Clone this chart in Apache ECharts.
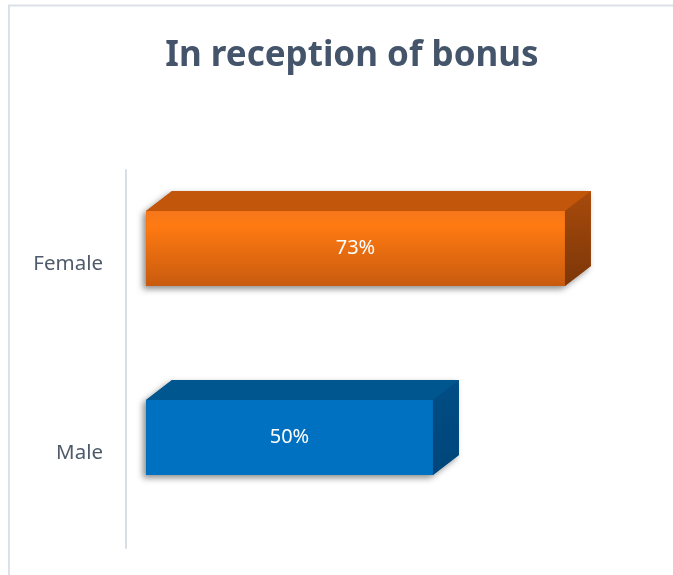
<!DOCTYPE html>
<html>
<head>
<meta charset="utf-8">
<script src="https://cdn.jsdelivr.net/npm/echarts@6/dist/echarts.min.js"></script>
<style>
html,body{margin:0;padding:0;background:#fff;}
#main{width:673px;height:575px;}
</style>
</head>
<body>
<div id="main"></div>
<script>
var categories = ['Male', 'Female'];
var values = [50, 73];
var valueLabels = ['50%', '73%'];

// colours per bar: front gradient, top face, side face
var barColors = [
    { front: ['#0070C0', '#0070C0', '#0070C0'], top: '#00568F', side: ['#004D85', '#00467A'] },
    { front: ['#F5761A', '#FF7A12', '#C85A0E'], top: '#C2570B', side: ['#A84A0C', '#7C3708'] }
];

var seriesData = [];
for (var i = 0; i < values.length; i++) {
    seriesData.push([values[i], i, valueLabels[i]]);
}

function renderBox(params, api) {
    var v = api.value(0);
    var c = api.value(1);
    var p0 = api.coord([0, c]);
    var p1 = api.coord([v, c]);
    var band = api.size([0, 1])[1];
    var h = band * 0.397;
    var cy = p0[1] - band * 0.085;
    var x0 = p0[0], x1 = p1[0];
    var y0 = cy - h / 2, y1 = cy + h / 2;
    var dx = 26, dy = 20;
    var col = barColors[c];
    return {
        type: 'group',
        children: [
            {   // shadow
                type: 'polygon',
                shape: { points: [[x0, y1], [x0, y0], [x0 + dx, y0 - dy], [x1 + dx, y0 - dy], [x1 + dx, y1 - dy], [x1, y1]] },
                style: { fill: col.top, shadowBlur: 6, shadowOffsetX: -3, shadowOffsetY: 3, shadowColor: 'rgba(0,0,0,0.45)' }
            },
            {
                type: 'polygon',
                shape: { points: [[x0, y0], [x0 + dx, y0 - dy], [x1 + dx, y0 - dy], [x1, y0]] },
                style: { fill: col.top }
            },
            {
                type: 'polygon',
                shape: { points: [[x1, y0], [x1 + dx, y0 - dy], [x1 + dx, y1 - dy], [x1, y1]] },
                style: {
                    fill: new echarts.graphic.LinearGradient(0, 0, 0, 1, [
                        { offset: 0, color: col.side[0] },
                        { offset: 1, color: col.side[1] }
                    ])
                }
            },
            {
                type: 'rect',
                shape: { x: x0, y: y0, width: x1 - x0, height: h },
                style: {
                    fill: new echarts.graphic.LinearGradient(0, 0, 0, 1, [
                        { offset: 0, color: col.front[0] },
                        { offset: 0.2, color: col.front[1] },
                        { offset: 1, color: col.front[2] }
                    ])
                }
            },
            {
                type: 'text',
                style: {
                    text: api.value(2),
                    x: (x0 + x1) / 2,
                    y: cy,
                    fill: '#ffffff',
                    font: '20px "Noto Sans"',
                    align: 'center',
                    verticalAlign: 'middle'
                }
            }
        ]
    };
}

var myChart = echarts.init(document.getElementById('main'));
var option = {
    backgroundColor: '#ffffff',
    animation: false,
    title: {
        text: 'In reception of bonus',
        left: 347,
        top: 34,
        textAlign: 'center',
        textStyle: {
            color: '#44546A',
            fontSize: 35,
            fontWeight: 'bold',
            fontFamily: 'Noto Sans'
        }
    },
    graphic: [
        {
            type: 'polyline',
            shape: { points: [[9, 580], [9, 5.5], [680, 5.5]] },
            style: { stroke: '#DCE1E8', lineWidth: 2, fill: null },
            silent: true
        }
    ],
    grid: { left: 126, right: 68, top: 170, bottom: 27 },
    xAxis: {
        type: 'value',
        min: -3.5,
        max: 80,
        show: false
    },
    yAxis: {
        type: 'category',
        data: categories,
        axisLine: { show: true, onZero: false, lineStyle: { color: '#D9DEE5', width: 2 } },
        axisTick: { show: false },
        axisLabel: {
            color: '#4F5B6B',
            fontSize: 20.5,
            fontFamily: 'Noto Sans',
            margin: 23
        },
        splitLine: { show: false }
    },
    series: [
        {
            type: 'custom',
            renderItem: renderBox,
            encode: { x: 0, y: 1 },
            data: seriesData
        }
    ]
};
myChart.setOption(option);
</script>
</body>
</html>
